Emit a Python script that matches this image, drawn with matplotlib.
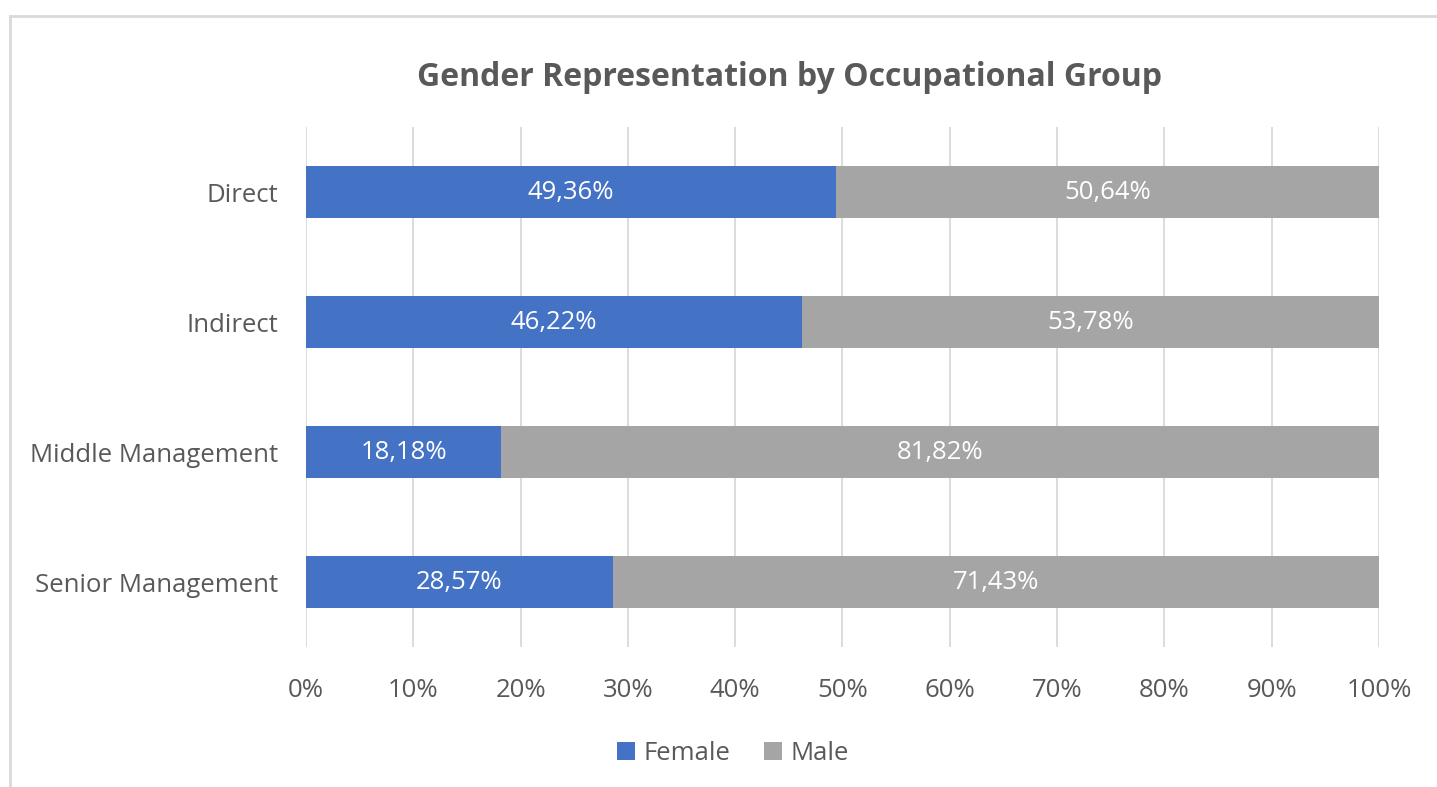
import matplotlib
matplotlib.use("Agg")
import matplotlib.pyplot as plt
from matplotlib.lines import Line2D
from matplotlib.ticker import FuncFormatter, MultipleLocator

categories = ["Direct", "Indirect", "Middle Management", "Senior Management"]
female = [49.36, 46.22, 18.18, 28.57]
male = [50.64, 53.78, 81.82, 71.43]
series_names = ["Female", "Male"]
colors = ["#4472C4", "#A5A5A5"]
title = "Gender Representation by Occupational Group"

plt.rcParams['font.family'] = ['Open Sans', 'DejaVu Sans']
text_color = "#595959"

fig = plt.figure(figsize=(14.37, 7.87), dpi=100)
W, H = 1437, 787
# chart border (left/top visible)
bx, by = 9.5 / W, 1 - 15.5 / H
fig.lines.append(Line2D([bx, bx], [0, by], transform=fig.transFigure, color="#D9D9D9", linewidth=2))
fig.lines.append(Line2D([bx, 1], [by, by], transform=fig.transFigure, color="#D9D9D9", linewidth=2))

ax = fig.add_axes([306 / W, (787 - 647) / H, (1379 - 306) / W, (647 - 127) / H])
y = list(range(len(categories)))
bars_f = ax.barh(y, female, height=0.4, color=colors[0], label=series_names[0], zorder=3)
bars_m = ax.barh(y, male, left=female, height=0.4, color=colors[1], label=series_names[1], zorder=3)

for bars, vals, lefts in [(bars_f, female, [0] * 4), (bars_m, male, female)]:
    for b, v, l in zip(bars, vals, lefts):
        ax.text(l + v / 2, b.get_y() + b.get_height() / 2, f"{v:.2f}%".replace(".", ","),
                ha="center", va="center", color="white", fontsize=18.5)

ax.set_xlim(0, 100)
ax.set_ylim(len(categories) - 0.5, -0.5)
ax.set_yticks(y)
ax.set_yticklabels(categories)
ax.xaxis.set_major_locator(MultipleLocator(10))
ax.xaxis.set_major_formatter(FuncFormatter(lambda v, p: f"{int(round(v))}%"))
ax.grid(axis="x", color="#D9D9D9", linewidth=1.3, zorder=0)
for s in ax.spines.values():
    s.set_visible(False)
ax.tick_params(axis="both", length=0, labelsize=18.5, colors=text_color)
ax.tick_params(axis="x", pad=22)
ax.tick_params(axis="y", pad=20)

fig.text(789 / W, 1 - 78 / H, title, ha="center", va="center",
         fontsize=23, fontweight="bold", color=text_color)

ax.legend(loc="center", bbox_to_anchor=((733 - 306) / (1379 - 306), (647 - 753) / 520),
          bbox_transform=ax.transAxes, ncol=2, frameon=False, fontsize=18.5, labelcolor=text_color,
          handlelength=0.7, handleheight=0.7, handletextpad=0.35, columnspacing=1.3)

fig.savefig("out.png", dpi=100, facecolor="white")
